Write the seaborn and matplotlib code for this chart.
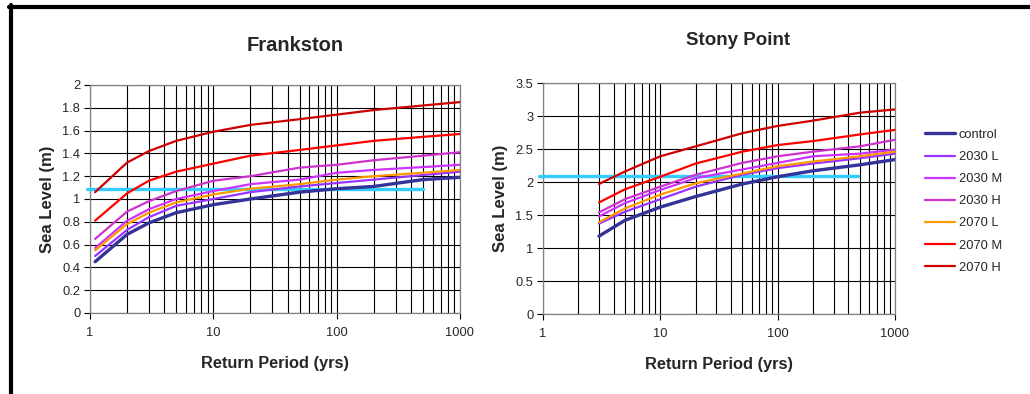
import numpy as np
import pandas as pd
import matplotlib
matplotlib.use("Agg")
import matplotlib.pyplot as plt
import matplotlib.ticker as mticker
from matplotlib.lines import Line2D
import seaborn as sns

series = ["control", "2030 L", "2030 M", "2030 H", "2070 L", "2070 M", "2070 H"]
colors = ["#333399", "#9933FF", "#CC33FF", "#CC33CC", "#FF9900", "#FF0000", "#CC0000"]
widths = [2.4, 1.6, 1.6, 1.6, 1.6, 1.6, 1.6]

# Frankston
fr_x = [1.1, 2, 3, 5, 10, 20, 50, 100, 200, 500, 1000]
fr_vals = {
    "control": [0.45, 0.69, 0.79, 0.88, 0.95, 1.00, 1.06, 1.09, 1.11, 1.17, 1.19],
    "2030 L":  [0.50, 0.73, 0.84, 0.94, 1.00, 1.06, 1.11, 1.14, 1.17, 1.21, 1.24],
    "2030 M":  [0.57, 0.81, 0.91, 1.00, 1.07, 1.13, 1.17, 1.23, 1.255, 1.28, 1.30],
    "2030 H":  [0.65, 0.89, 0.98, 1.07, 1.16, 1.20, 1.275, 1.30, 1.34, 1.38, 1.41],
    "2070 L":  [0.55, 0.78, 0.88, 0.97, 1.04, 1.09, 1.13, 1.17, 1.20, 1.23, 1.255],
    "2070 M":  [0.81, 1.05, 1.16, 1.24, 1.31, 1.38, 1.43, 1.47, 1.51, 1.545, 1.57],
    "2070 H":  [1.06, 1.32, 1.42, 1.51, 1.59, 1.65, 1.70, 1.74, 1.78, 1.82, 1.85],
}
fr_thresh_x = [0.95, 500]
fr_thresh_y = [1.09, 1.09]

# Stony Point
sp_x = [3, 5, 10, 20, 50, 100, 200, 500, 1000]
sp_vals = {
    "control": [1.18, 1.42, 1.62, 1.78, 1.97, 2.08, 2.17, 2.26, 2.34],
    "2030 L":  [1.37, 1.55, 1.74, 1.93, 2.11, 2.21, 2.28, 2.36, 2.43],
    "2030 M":  [1.48, 1.68, 1.88, 2.06, 2.19, 2.29, 2.39, 2.43, 2.49],
    "2030 H":  [1.54, 1.74, 1.93, 2.11, 2.29, 2.39, 2.46, 2.54, 2.64],
    "2070 L":  [1.39, 1.60, 1.81, 1.98, 2.13, 2.24, 2.31, 2.39, 2.46],
    "2070 M":  [1.69, 1.89, 2.08, 2.28, 2.46, 2.56, 2.62, 2.72, 2.79],
    "2070 H":  [1.97, 2.16, 2.39, 2.54, 2.74, 2.85, 2.93, 3.05, 3.10],
}
sp_thresh_x = [0.93, 480]
sp_thresh_y = [2.09, 2.09]


def long_frame(xs, vals):
    rows = []
    for s in series:
        for x, y in zip(xs, vals[s]):
            rows.append({"period": x, "level": y, "series": s})
    return pd.DataFrame(rows)


sns.set_style("white")
plt.rcParams["font.family"] = ["Liberation Sans", "DejaVu Sans"]

fig = plt.figure(figsize=(10.3, 3.94), dpi=100)
ax1 = fig.add_axes([0.0874, 0.2056, 0.3592, 0.5787])
ax2 = fig.add_axes([0.5272, 0.2030, 0.3417, 0.5863])

panels = [
    (ax1, "Frankston", 14.5, 1.175, fr_x, fr_vals, fr_thresh_x, fr_thresh_y, 2.0, 0.2),
    (ax2, "Stony Point", 13.5, 1.185, sp_x, sp_vals, sp_thresh_x, sp_thresh_y, 3.5, 0.5),
]

for ax, title, tsize, title_y, xs, vals, tx, ty, ymax, ystep in panels:
    df = long_frame(xs, vals)
    ax.plot(tx, ty, color="#33CCFF", lw=2.4, clip_on=False, zorder=3)
    sns.lineplot(data=df, x="period", y="level", hue="series", hue_order=series,
                 palette=colors, ax=ax, legend=False, zorder=4)
    for line, w in zip(ax.lines[1:], widths):
        line.set_linewidth(w)
    ax.set_xscale("log")
    ax.set_xlim(1, 1000)
    ax.set_ylim(0, ymax)
    ax.xaxis.set_major_locator(mticker.FixedLocator([1, 10, 100, 1000]))
    ax.xaxis.set_major_formatter(mticker.FixedFormatter(["1", "10", "100", "1000"]))
    ax.xaxis.set_minor_locator(mticker.LogLocator(base=10, subs=np.arange(2, 10)))
    ax.xaxis.set_minor_formatter(mticker.NullFormatter())
    ax.yaxis.set_major_locator(mticker.MultipleLocator(ystep))
    ax.yaxis.set_major_formatter(mticker.FuncFormatter(lambda v, p: f"{v:g}"))
    ax.grid(True, which="major", axis="both", color="black", lw=0.8)
    ax.grid(True, which="minor", axis="x", color="black", lw=0.8)
    ax.set_axisbelow(True)
    for sp in ax.spines.values():
        sp.set_color("#808080")
        sp.set_linewidth(0.9)
    ax.tick_params(axis="both", which="major", direction="out", length=4,
                   width=0.8, color="black", labelsize=9.3, pad=3, left=True, bottom=True)
    ax.tick_params(axis="x", which="minor", length=0)
    ax.tick_params(axis="x", pad=6)
    ax.set_xlabel("Return Period (yrs)", fontsize=11.8, fontweight="bold", labelpad=12)
    ax.set_ylabel("Sea Level (m)", fontsize=12, fontweight="bold", labelpad=5)
    ax.text(0.554, title_y, title, transform=ax.transAxes,
            ha="center", va="center", fontsize=tsize, fontweight="bold")

handles = [Line2D([0], [0], color=c, lw=w) for c, w in zip(colors, widths)]
fig.legend(handles, series, loc="upper left", bbox_to_anchor=(0.893, 0.686),
           frameon=False, fontsize=9.3, handlelength=2.3, handletextpad=0.3,
           labelspacing=0.78, borderaxespad=0)

# outer frame: thick black lines at top and left
fig.add_artist(Line2D([9 / 1030, 1], [1 - 7 / 394, 1 - 7 / 394], color="black", lw=3))
fig.add_artist(Line2D([11 / 1030, 11 / 1030], [0, 1 - 5 / 394], color="black", lw=3))

fig.savefig("out.png", dpi=100, facecolor="white")
